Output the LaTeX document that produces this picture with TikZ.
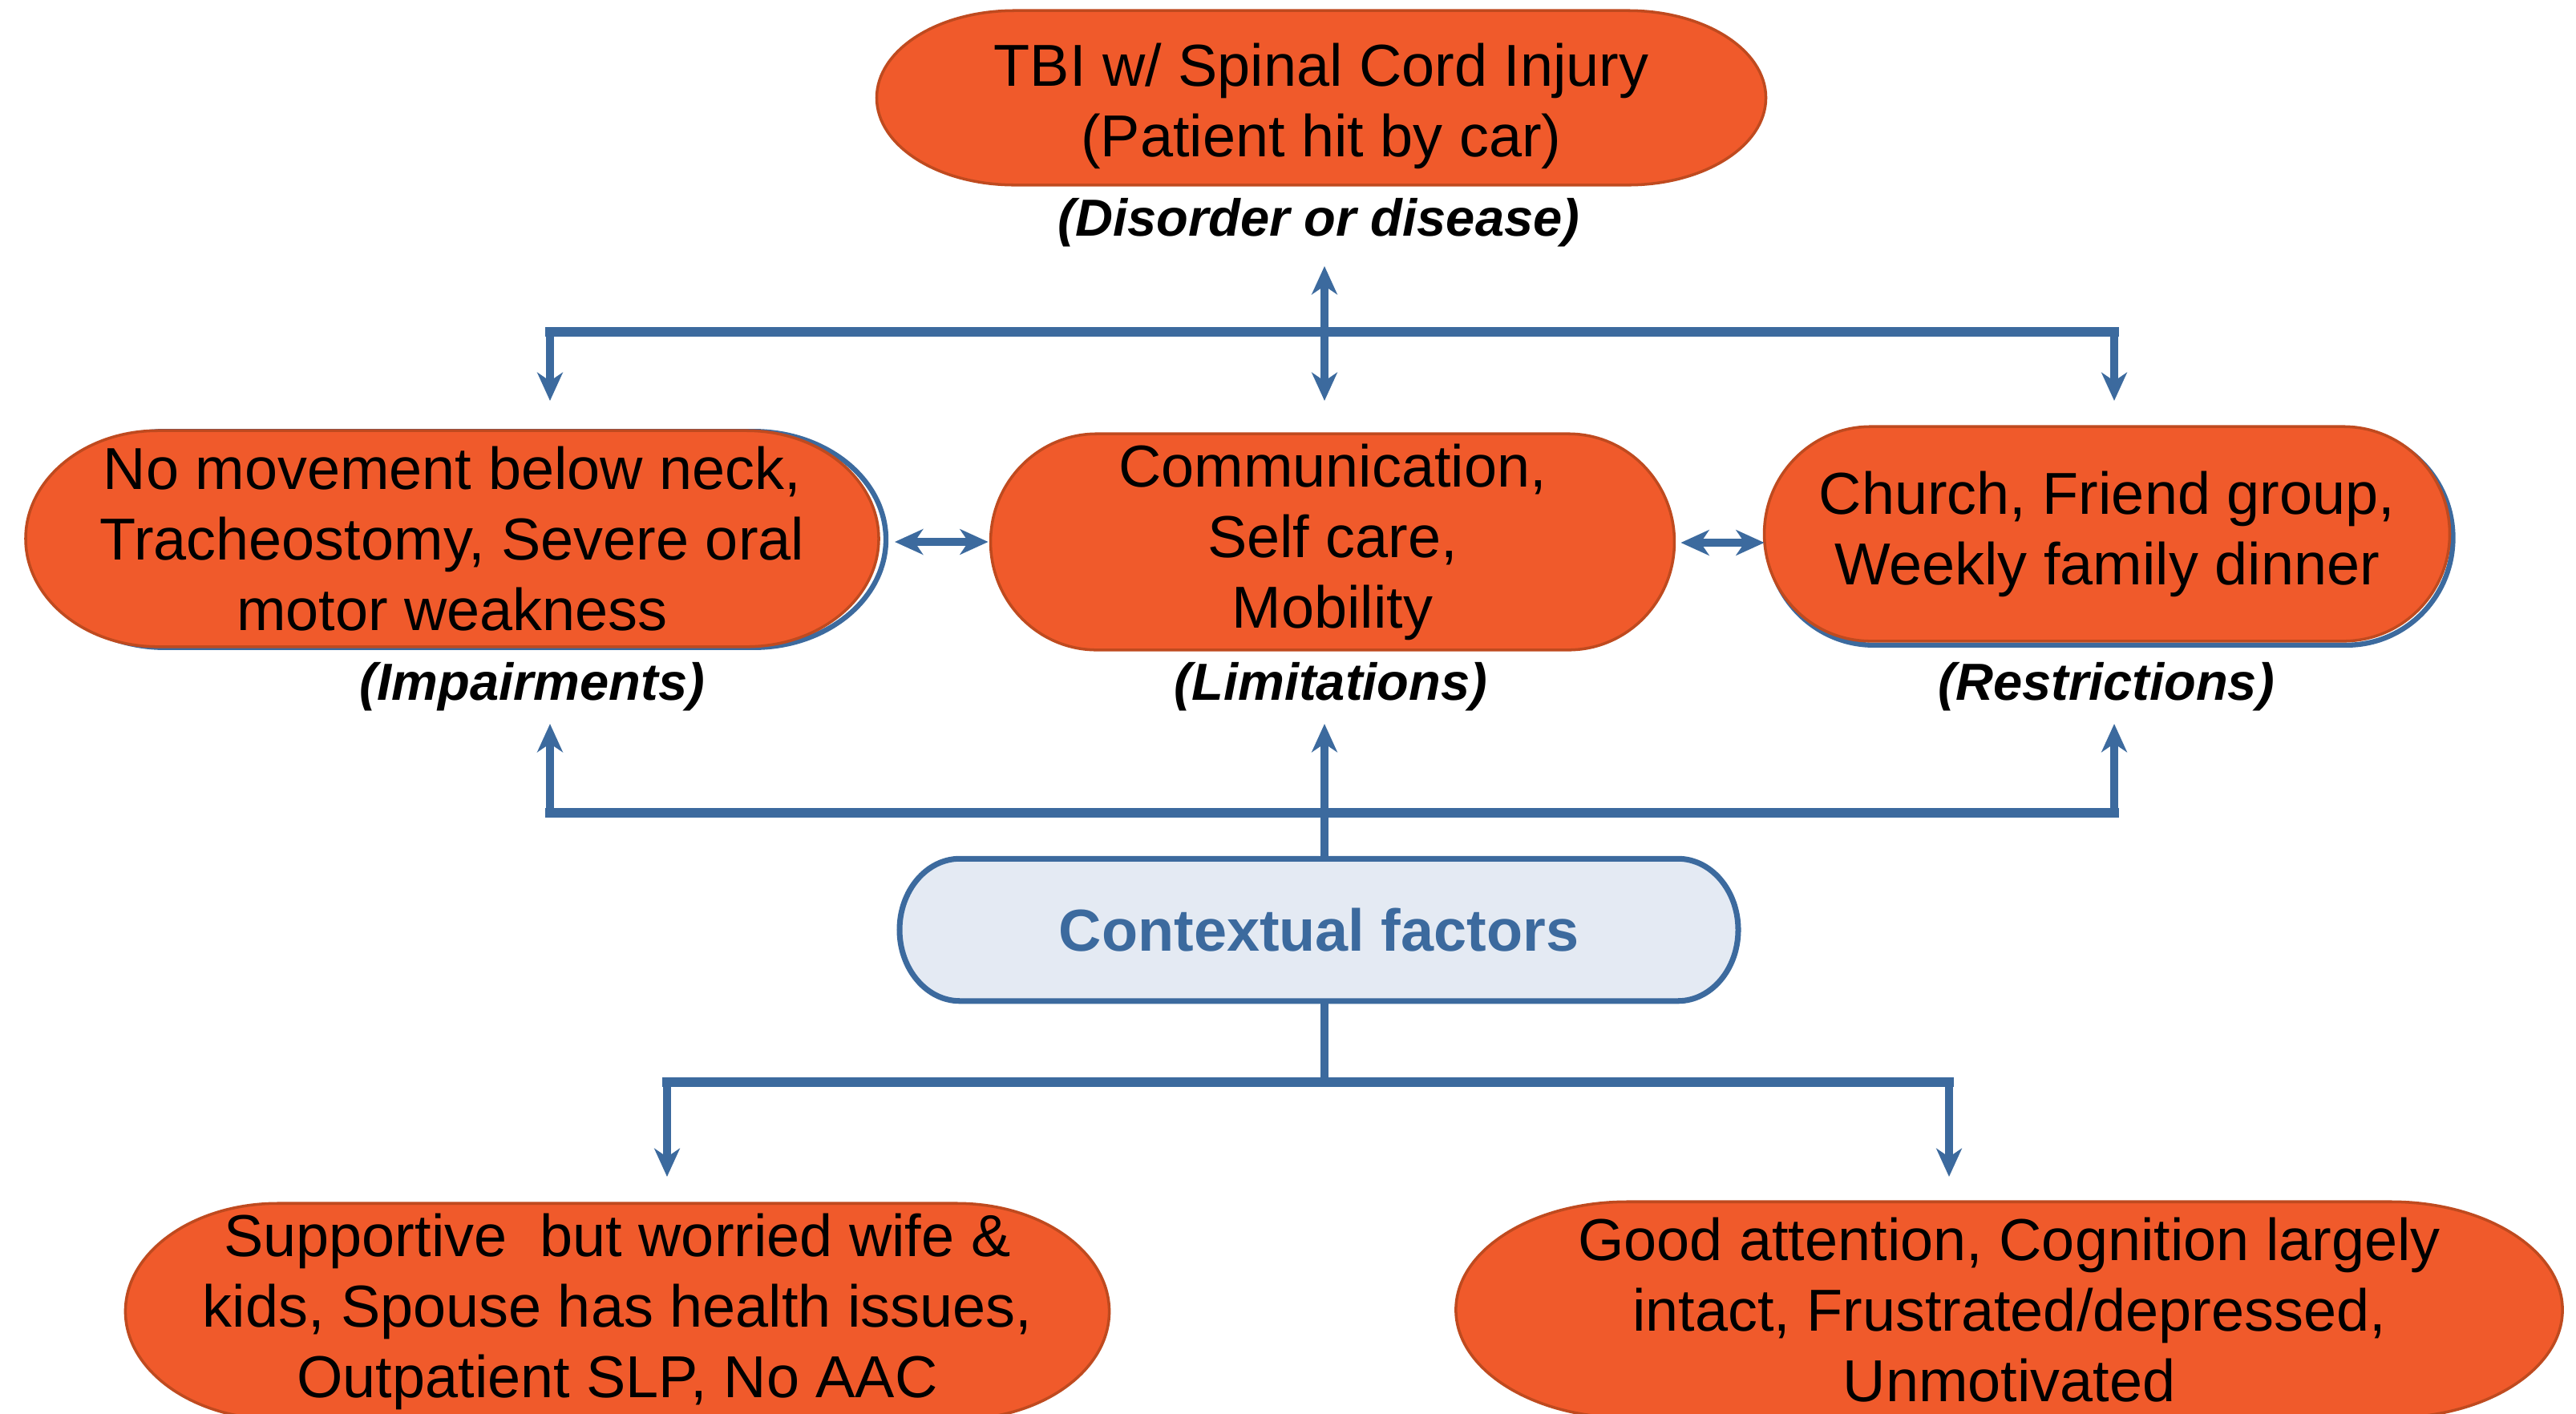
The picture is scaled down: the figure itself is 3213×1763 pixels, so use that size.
\documentclass[tikz,border=0pt]{standalone}
\usepackage{fontspec}
\setmainfont{Liberation Sans}
\usetikzlibrary{arrows.meta,calc}
\pgfdeclarelayer{background}
\pgfsetlayers{background,main}

\definecolor{orangefill}{HTML}{F05A2B}
\definecolor{orangeedge}{HTML}{BF4A1F}
\definecolor{linkblue}{HTML}{3C6A9E}
\definecolor{ctxfill}{HTML}{E4EAF3}

% terminator outline around a node: straight top and bottom, elliptical ends
% #1 node name, #2 horizontal end radius as a fraction of the node width
\newcommand\termpath[2]{let \p1=(#1.north west), \p2=(#1.south east),
  \n1={#2*(\x2-\x1)}, \n2={(\y1-\y2)/2} in
  (\x1+\n1,\y1) -- (\x2-\n1,\y1)
  arc[start angle=90,end angle=-90,x radius=\n1,y radius=\n2]
  -- (\x1+\n1,\y2)
  arc[start angle=270,end angle=90,x radius=\n1,y radius=\n2] -- cycle}

\tikzset{
  orangebox/.style={align=center, inner sep=0pt,
    font=\fontsize{21}{25}\selectfont},
  tag/.style={inner sep=0pt, font=\fontsize{18.5}{22}\selectfont\bfseries\itshape},
  ctxbox/.style={inner sep=0pt, text=linkblue,
    font=\fontsize{21}{25}\selectfont\bfseries},
  orangeshape/.style={fill=orangefill, draw=orangeedge, line width=1pt},
  blueoutline/.style={draw=linkblue, line width=1.8pt},
  ctxshape/.style={fill=ctxfill, draw=linkblue, line width=2pt},
  tip/.tip={Stealth[length=10pt,width=9pt,inset=3pt]},
  link/.style={draw=linkblue, line width=2.6pt},
  bar/.style={draw=linkblue, line width=3.2pt, line cap=rect},
}

\begin{document}
\begin{tikzpicture}[x=0.01cm, y=-0.01cm]
\useasboundingbox (0,0) rectangle (3213,1763);

% boxes and their captions
\node[orangebox, minimum width=11.07cm, minimum height=2.16cm] (tbi) at (1648,122)
  {\rule{0pt}{21pt}TBI w/ Spinal Cord Injury\\(Patient hit by car)};
\node[tag] (dis) at (1645,278) {(Disorder or disease)};

\node[orangebox, minimum width=10.62cm, minimum height=2.68cm] (imp) at (564,672)
  {No movement below neck,\\Tracheostomy, Severe oral\\motor weakness};
\node[orangebox, minimum width=8.51cm, minimum height=2.68cm] (lim) at (1662,676)
  {Communication,\\Self care,\\Mobility};
\node[orangebox, minimum width=8.53cm, minimum height=2.66cm] (res) at (2628,666)
  {Church, Friend group,\\Weekly family dinner};

\node[tag] (impl) at (664,857) {(Impairments)};
\node[tag] (liml) at (1660,857) {(Limitations)};
\node[tag] (resl) at (2627,857) {(Restrictions)};

\node[ctxbox, minimum width=10.44cm, minimum height=1.76cm] (ctx) at (1645,1160)
  {Contextual factors};

\node[orangebox, minimum width=12.25cm, minimum height=2.68cm] (env) at (770,1636)
  {Supportive\ \ but worried wife \&\\kids, Spouse has health issues,\\Outpatient SLP, No AAC};
\node[orangebox, minimum width=13.78cm, minimum height=2.68cm] (pers) at (2506,1634)
  {Good attention, Cognition largely\\intact, Frustrated/depressed,\\Unmotivated};

% page and box outlines, drawn beneath the text
\begin{pgfonlayer}{background}
  \fill[white] (0,0) rectangle (3213,1763);
  \path[blueoutline, transform canvas={shift={(0.09cm,-0.01cm)}}] \termpath{imp}{0.155};
  \path[blueoutline, transform canvas={shift={(0.04cm,-0.05cm)}}] \termpath{res}{0.155};
  \path[orangeshape] \termpath{tbi}{0.155};
  \path[orangeshape] \termpath{imp}{0.155};
  \path[orangeshape] \termpath{lim}{0.155};
  \path[orangeshape] \termpath{res}{0.155};
  \path[orangeshape] \termpath{env}{0.155};
  \path[orangeshape] \termpath{pers}{0.155};
  \path[ctxshape] \termpath{ctx}{0.072};
\end{pgfonlayer}

% upper fork below the disorder
\coordinate (tUp) at (1652,332);
\coordinate (tDown) at (1652,500);
\coordinate (tBarL) at (686,414);
\coordinate (tBarR) at (2637,414);
\coordinate (tImp) at (686,500);
\coordinate (tRes) at (2637,500);
\draw[bar] (tBarL) -- (tBarR);
\draw[link, tip-tip] (tUp) -- (tDown);
\draw[link, -tip] (tBarL) -- (tImp);
\draw[link, -tip] (tBarR) -- (tRes);

% links between the three middle boxes
\draw[link, line width=3pt, tip-tip] ($(imp.east)+(20,4)$) -- ($(lim.west)+(-3,0)$);
\draw[link, line width=3pt, tip-tip] ($(lim.east)+(8,1)$) -- ($(res.west)+(0,11)$);

% contextual factors feeding the middle row
\coordinate (bBarL) at (686,1014);
\coordinate (bBarR) at (2637,1014);
\coordinate (bUpL) at (686,903);
\coordinate (bUpM) at (1652,903);
\coordinate (bUpR) at (2637,903);
\draw[bar] (bBarL) -- (bBarR);
\draw[link, -tip] (bBarL) -- (bUpL);
\draw[link, -tip] (bBarR) -- (bUpR);
\draw[link, -tip] (ctx.north -| bUpM) -- (bUpM);

% contextual factors split into environmental and personal
\coordinate (cBarM) at (1652,1350);
\coordinate (cBarL) at (832,1350);
\coordinate (cBarR) at (2431,1350);
\coordinate (cEnv) at (832,1468);
\coordinate (cPers) at (2431,1468);
\draw[link] (ctx.south -| cBarM) -- (cBarM);
\draw[bar] (cBarL) -- (cBarR);
\draw[link, -tip] (cBarL) -- (cEnv);
\draw[link, -tip] (cBarR) -- (cPers);
\end{tikzpicture}
\end{document}
